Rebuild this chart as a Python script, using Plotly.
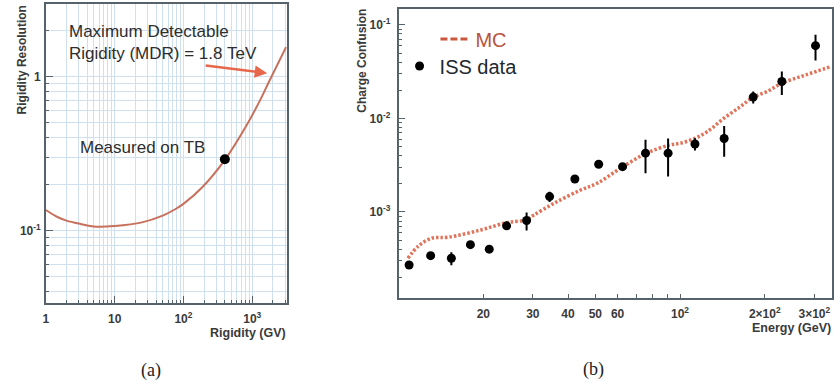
import math
import plotly.graph_objects as go

# ---------------- Panel (a): rigidity resolution ----------------
rigidity = [1, 1.5, 2, 3, 5.4, 10, 25, 50, 77, 100, 188, 410, 800, 1320, 1745, 3100]
resolution = [0.136, 0.122, 0.116, 0.111, 0.106, 0.107, 0.113, 0.125, 0.138, 0.149,
              0.191, 0.292, 0.469, 0.71, 0.92, 1.55]
tb_rigidity = [400]
tb_resolution = [0.29]

a_xticks = [1, 10, 100, 1000]
a_xticktext = ["1", "10", "10<sup>2</sup>", "10<sup>3</sup>"]
a_xminor = [2, 3, 4, 5, 6, 7, 8, 9, 20, 30, 40, 50, 60, 70, 80, 90,
            200, 300, 400, 500, 600, 700, 800, 900, 2000, 3000]
a_yticks = [0.1, 1]
a_yticktext = ["10<sup>-1</sup>", "1"]
a_yminor = [0.04, 0.05, 0.06, 0.07, 0.08, 0.09, 0.2, 0.3, 0.4, 0.5, 0.6, 0.7, 0.8, 0.9, 2]

# ---------------- Panel (b): charge confusion ----------------
energy = [10.9, 13.0, 15.4, 18.0, 21.0, 24.2, 28.5, 34.4, 42.3, 51.4, 62.5, 75.4, 90.7,
          113, 143.5, 182, 230, 303]
confusion = [2.71e-4, 3.41e-4, 3.2e-4, 4.47e-4, 4.0e-4, 7.1e-4, 8.1e-4, 1.46e-3, 2.25e-3,
             3.24e-3, 3.05e-3, 4.25e-3, 4.25e-3, 5.33e-3, 6.1e-3, 1.69e-2, 2.48e-2, 6.0e-2]
confusion_err = [0.25e-4, 0.25e-4, 0.5e-4, 0.15e-4, 0.15e-4, 0.3e-4, 1.75e-4, 1.8e-4, 0.8e-4,
                 1.5e-4, 2.0e-4, 1.65e-3, 1.85e-3, 0.8e-3, 2.2e-3, 2.5e-3, 7.0e-3, 1.85e-2]

mc_energy = [10.8, 11.7, 13.1, 15.0, 19.6, 24.2, 28.2, 30.3, 35.7, 44.4, 50.8, 61.4, 76, 92,
             101, 113, 125, 143, 164, 182, 204, 230, 280, 343]
mc_confusion = [3.2e-4, 4.26e-4, 5.24e-4, 5.37e-4, 6.42e-4, 7.69e-4, 8.2e-4, 9.3e-4, 1.24e-3,
                1.72e-3, 2.03e-3, 2.93e-3, 4.25e-3, 5.2e-3, 5.46e-3, 6.13e-3, 7.22e-3, 1.0e-2,
                1.34e-2, 1.69e-2, 1.94e-2, 2.38e-2, 2.92e-2, 3.58e-2]

b_xticks = [20, 30, 40, 50, 60, 100, 200, 300]
b_xticktext = ["20", "30", "40", "50", "60", "10<sup>2</sup>",
               "2×10<sup>2</sup>", "3×10<sup>2</sup>"]
b_xminor = [70, 80, 90]
b_yticks = [1e-3, 1e-2, 1e-1]
b_yticktext = ["10<sup>-3</sup>", "10<sup>-2</sup>", "10<sup>-1</sup>"]
b_yminor = [k * 10 ** e for e in (-4, -3, -2) for k in range(2, 10)]

W, H = 834, 385
FONT = "Liberation Sans"
TICKCOL = "#3a3a3a"
GRID = "#cfe0ee"
FRAME = "#56636b"

fig = go.Figure()

# Panel (a)
fig.add_trace(go.Scatter(x=rigidity, y=resolution, mode="lines", line_shape="spline",
                         line=dict(color="#c7705c", width=2), showlegend=False,
                         xaxis="x", yaxis="y"))
fig.add_trace(go.Scatter(x=tb_rigidity, y=tb_resolution, mode="markers",
                         marker=dict(color="black", size=10), showlegend=False,
                         xaxis="x", yaxis="y"))

# Panel (b)
fig.add_trace(go.Scatter(x=mc_energy, y=mc_confusion, mode="lines", line_shape="spline",
                         line=dict(color="#e0735a", width=3.5, dash="2.5px,2px"),
                         showlegend=False, xaxis="x2", yaxis="y2"))
fig.add_trace(go.Scatter(x=[None], y=[None], mode="lines",
                         line=dict(color="#c9583e", width=3, dash="7px,3px"),
                         name="<span style='color:#b9533d'>MC</span>",
                         legend="legend", xaxis="x2", yaxis="y2"))
fig.add_trace(go.Scatter(x=energy, y=confusion, mode="markers",
                         marker=dict(color="black", size=9),
                         error_y=dict(type="data", array=confusion_err, color="black",
                                      thickness=2, width=0),
                         name="ISS data", legend="legend2", xaxis="x2", yaxis="y2"))

def px(v):
    return v / W

def py(v):
    return 1 - v / H

common_tick = dict(tickfont=dict(family=FONT, size=12, color=TICKCOL, weight="bold"),
                   ticks="inside", linecolor=FRAME, linewidth=1.5, mirror=True,
                   showline=True, zeroline=False, tickcolor=FRAME, tickwidth=1)

fig.update_layout(
    width=W, height=H,
    margin=dict(l=0, r=0, t=0, b=0),
    paper_bgcolor="white", plot_bgcolor="white",
    xaxis=dict(type="log", domain=[px(43), px(285)], range=[0, 3.505],
               tickmode="array", tickvals=a_xticks, ticktext=a_xticktext, ticklen=7,
               showgrid=True, gridcolor=GRID, gridwidth=1,
               minor=dict(tickmode="array", tickvals=a_xminor, ticks="inside", ticklen=3,
                          showgrid=True, gridcolor=GRID, gridwidth=1, tickcolor=FRAME),
               anchor="y", ticklabelstandoff=4, **common_tick),
    yaxis=dict(type="log", domain=[py(303), py(4)], range=[-1.47, 0.47],
               tickmode="array", tickvals=a_yticks, ticktext=a_yticktext, ticklen=7,
               showgrid=True, gridcolor=GRID, gridwidth=1,
               minor=dict(tickmode="array", tickvals=a_yminor, ticks="inside", ticklen=3,
                          showgrid=True, gridcolor=GRID, gridwidth=1, tickcolor=FRAME),
               anchor="x", ticklabelstandoff=1, **common_tick),
    xaxis2=dict(type="log", domain=[px(397), px(832)], range=[1.0, 2.54],
                tickmode="array", tickvals=b_xticks, ticktext=b_xticktext, ticklen=4,
                showgrid=False,
                minor=dict(tickmode="array", tickvals=b_xminor, ticks="inside", ticklen=4,
                           showgrid=False, tickcolor=FRAME),
                anchor="y2", ticklabelstandoff=4, **common_tick),
    yaxis2=dict(type="log", domain=[py(298), py(9)], range=[-3.92, -0.83],
                tickmode="array", tickvals=b_yticks, ticktext=b_yticktext, ticklen=7,
                showgrid=False,
                minor=dict(tickmode="array", tickvals=b_yminor, ticks="inside", ticklen=4,
                           showgrid=False, tickcolor=FRAME),
                anchor="x2", ticklabelstandoff=4, **common_tick),
    legend=dict(x=px(434), y=py(39), xanchor="left", yanchor="middle",
                bgcolor="rgba(0,0,0,0)", font=dict(family=FONT, size=20, color="#b9533d")),
    legend2=dict(x=px(398), y=py(66), xanchor="left", yanchor="middle",
                 bgcolor="rgba(0,0,0,0)", font=dict(family=FONT, size=20, color="#1e2a30")),
)

ann = []
# Panel (a) texts
ann.append(dict(xref="paper", yref="paper", x=px(64), y=py(42), xanchor="left",
                yanchor="middle", align="left", showarrow=False,
                text="Maximum Detectable<br>Rigidity (MDR) = 1.8 TeV",
                font=dict(family=FONT, size=17, color="#2e2e2e")))
ann.append(dict(xref="paper", yref="paper", x=px(75), y=py(147), xanchor="left",
                yanchor="middle", showarrow=False, text="Measured on TB",
                font=dict(family=FONT, size=17, color="#2e2e2e")))
ann.append(dict(xref="x", yref="y", x=math.log10(1650), y=math.log10(1.05),
                axref="x", ayref="y", ax=math.log10(200), ay=math.log10(1.18),
                showarrow=True, arrowhead=2, arrowsize=1, arrowwidth=2.5,
                arrowcolor="#e8664a", text=""))
ann.append(dict(xref="paper", yref="paper", x=px(19), y=py(3), xanchor="center",
                yanchor="top", textangle=-90, showarrow=False, text="<b>Rigidity Resolution</b>",
                font=dict(family=FONT, size=12, color=TICKCOL)))
ann.append(dict(xref="paper", yref="paper", x=px(286), y=py(333), xanchor="right",
                yanchor="middle", showarrow=False, text="<b>Rigidity (GV)</b>",
                font=dict(family=FONT, size=12.5, color=TICKCOL)))
# Panel (b) texts
ann.append(dict(xref="paper", yref="paper", x=px(360), y=py(7), xanchor="center",
                yanchor="top", textangle=-90, showarrow=False, text="<b>Charge Confusion</b>",
                font=dict(family=FONT, size=12, color=TICKCOL)))
ann.append(dict(xref="paper", yref="paper", x=px(833), y=py(328), xanchor="right",
                yanchor="middle", showarrow=False, text="<b>Energy (GeV)</b>",
                font=dict(family=FONT, size=12.5, color=TICKCOL)))
# Captions
ann.append(dict(xref="paper", yref="paper", x=px(149), y=py(370), xanchor="center",
                yanchor="middle", showarrow=False, text="(a)",
                font=dict(family="Liberation Serif", size=18, color="#222")))
ann.append(dict(xref="paper", yref="paper", x=px(593), y=py(369), xanchor="center",
                yanchor="middle", showarrow=False, text="(b)",
                font=dict(family="Liberation Serif", size=18, color="#222")))
fig.update_layout(annotations=ann)

fig.write_html("out.html",
               config={"displayModeBar": False},
               post_script="document.body.style.margin='0px';"
                           "document.body.style.padding='0px';"
                           "document.body.style.overflow='hidden';")
